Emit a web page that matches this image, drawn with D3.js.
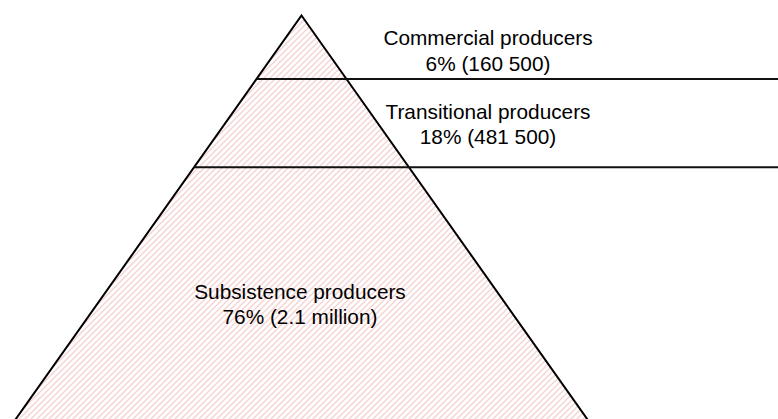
<!DOCTYPE html>
<html>
<head>
<meta charset="utf-8">
<script src="https://cdn.jsdelivr.net/npm/d3@7/dist/d3.min.js"></script>
<style>
  html, body { margin: 0; padding: 0; background: #fff; }
  svg { display: block; }
  text { font-family: "Liberation Sans", Arial, sans-serif; fill: #000; }
</style>
</head>
<body>
<div id="chart"></div>
<script>
// Producer tiers, top of the pyramid first
const tiers = ["Commercial producers", "Transitional producers", "Subsistence producers"];
const shares = [6, 18, 76];
const counts = ["160 500", "481 500", "2.1 million"];

const width = 778, height = 419;

// Pyramid geometry: apex, depth of each tier divider (as fraction of the drawn depth)
const apex = { x: 301.5, y: 15.5 };
const baseY = 440;          // base lies below the frame
const halfSlope = 0.708;    // half-width gained per pixel of depth
const dividerDepth = [0.1495, 0.3575]; // fraction of apex→baseY depth

const svg = d3.select("#chart").append("svg")
  .attr("width", width).attr("height", height);

// hatch fill
const defs = svg.append("defs");
const pat = defs.append("pattern")
  .attr("id", "hatch")
  .attr("patternUnits", "userSpaceOnUse")
  .attr("width", 6).attr("height", 6);
pat.append("path")
  .attr("d", "M-1,1 l2,-2 M0,6 l6,-6 M5,7 l2,-2")
  .attr("stroke", "#f5d4d4")
  .attr("stroke-width", 1.5);

// depth → y
const y = d3.scaleLinear().domain([0, 1]).range([apex.y, baseY]);
const halfW = yy => (yy - apex.y) * halfSlope;

const tri = d3.path();
tri.moveTo(apex.x, apex.y);
tri.lineTo(apex.x + halfW(baseY), baseY);
tri.lineTo(apex.x - halfW(baseY), baseY);
tri.closePath();

svg.append("path")
  .attr("d", tri.toString())
  .attr("fill", "url(#hatch)")
  .attr("stroke", "#000")
  .attr("stroke-width", 2)
  .attr("stroke-linejoin", "miter");

// tier dividers run from the left edge across to the right of the frame
svg.selectAll("line.divider")
  .data(dividerDepth)
  .join("line")
  .attr("class", "divider")
  .attr("x1", d => apex.x - halfW(y(d)))
  .attr("x2", width)
  .attr("y1", d => y(d))
  .attr("y2", d => y(d))
  .attr("stroke", "#111")
  .attr("stroke-width", 2);

// labels
const labelPos = [
  { x: 488, y: 45 },
  { x: 488, y: 118.5 },
  { x: 300, y: 298.5 }
];
const lineGap = 25.5;
const fs = 20.8;

const g = svg.selectAll("g.label")
  .data(tiers.map((t, i) => ({ name: t, share: shares[i], count: counts[i], pos: labelPos[i] })))
  .join("g")
  .attr("class", "label");

g.append("text")
  .attr("x", d => d.pos.x)
  .attr("y", d => d.pos.y)
  .attr("text-anchor", "middle")
  .attr("font-size", fs)
  .text(d => d.name);

g.append("text")
  .attr("x", d => d.pos.x)
  .attr("y", d => d.pos.y + lineGap)
  .attr("text-anchor", "middle")
  .attr("font-size", fs)
  .text(d => `${d.share}% (${d.count})`);
</script>
</body>
</html>
